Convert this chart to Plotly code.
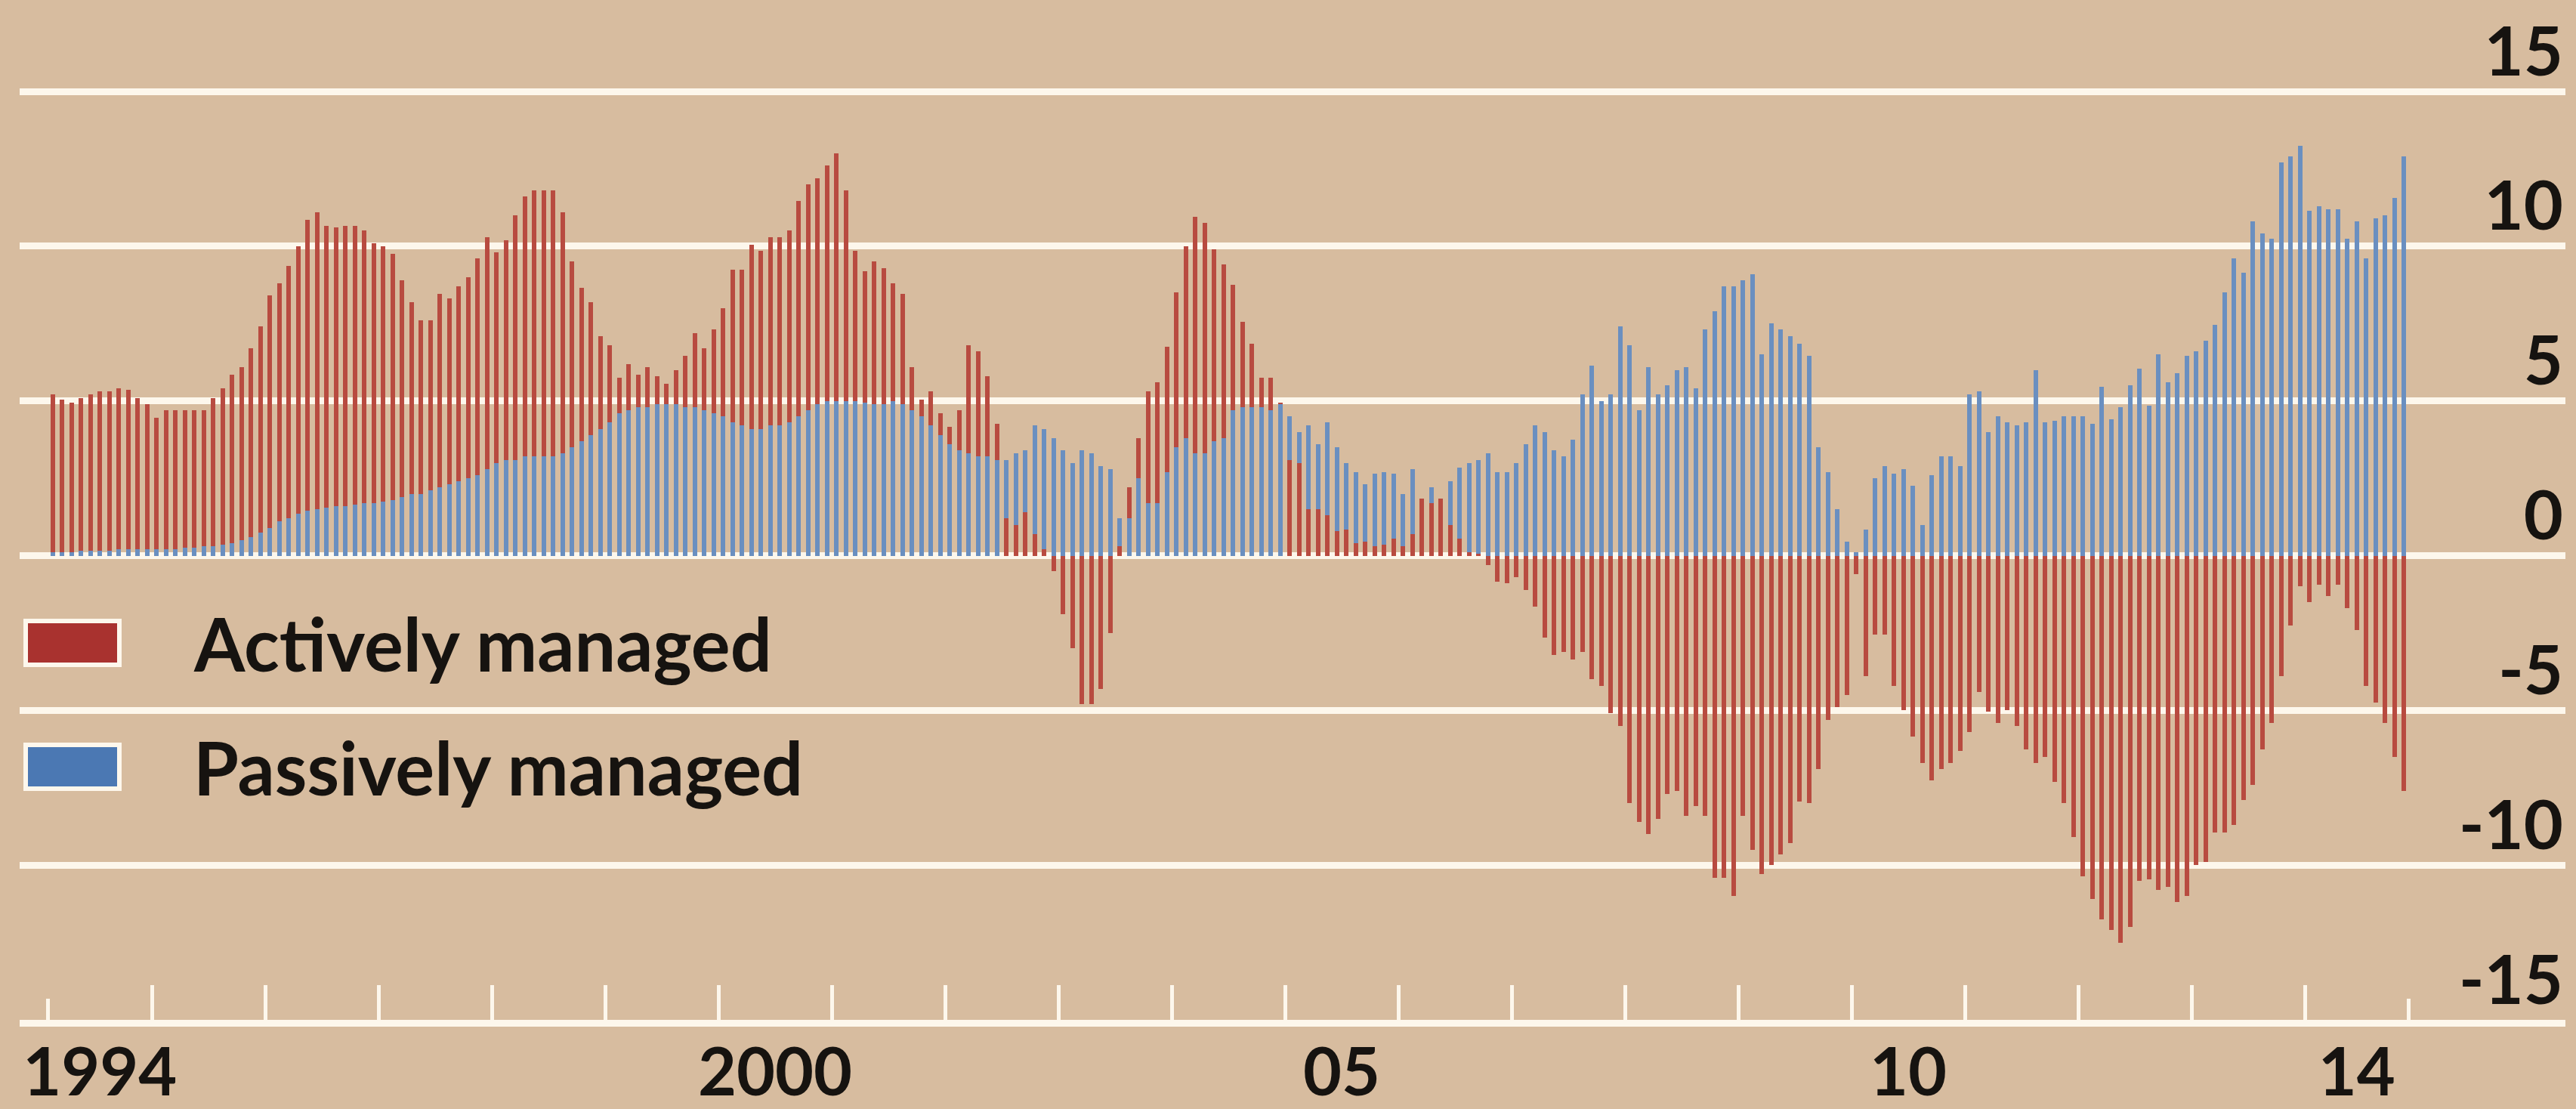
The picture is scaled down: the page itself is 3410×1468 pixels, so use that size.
import plotly.graph_objects as go

# ---------------- data (monthly, Feb 1994 .. Nov 2014) ----------------
start_year = 1994
start_month = 2          # February 1994
active = [
    # 1994 (Feb-Dec)
    5.2, 5.05, 4.95, 5.1, 5.2, 5.3, 5.3, 5.4, 5.35, 5.1, 4.9,
    # 1995
    4.45, 4.7, 4.7, 4.7, 4.7, 4.7, 5.1, 5.4, 5.85, 6.1, 6.7, 7.4,
    # 1996
    8.4, 8.8, 9.35, 10.0, 10.85, 11.1, 10.65, 10.6, 10.65, 10.65, 10.5, 10.1,
    # 1997
    10.0, 9.75, 8.9, 8.2, 7.6, 7.6, 8.45, 8.3, 8.7, 9.0, 9.6, 10.3,
    # 1998
    9.8, 10.2, 11.0, 11.6, 11.8, 11.8, 11.8, 11.1, 9.5, 8.65, 8.2, 7.1,
    # 1999
    6.8, 5.75, 6.2, 5.85, 6.1, 5.8, 5.55, 6.0, 6.45, 7.2, 6.7, 7.3,
    # 2000
    8.0, 9.25, 9.25, 10.05, 9.85, 10.3, 10.3, 10.5, 11.45, 12.0, 12.2, 12.6,
    # 2001
    13.0, 11.8, 9.85, 9.2, 9.5, 9.3, 8.8, 8.45, 6.1, 5.05, 5.3, 4.6,
    # 2002
    4.15, 4.7, 6.8, 6.6, 5.8, 4.25, 1.2, 1.0, 1.4, 0.7, 0.2, -0.5,
    # 2003
    -1.9, -3.0, -4.8, -4.8, -4.3, -2.5, 0.3, 2.2, 3.8, 5.3, 5.6, 6.75,
    # 2004
    8.5, 10.0, 10.95, 10.75, 9.9, 9.4, 8.75, 7.55, 6.85, 5.75, 5.75, 4.95,
    # 2005
    3.1, 3.0, 1.5, 1.5, 1.3, 0.8, 0.85, 0.4, 0.45, 0.3, 0.35, 0.55,
    # 2006
    0.3, 0.7, 1.85, 1.7, 1.85, 1.0, 0.55, 0.1, 0.05, -0.3, -0.85, -0.9,
    # 2007
    -0.7, -1.1, -1.65, -2.65, -3.2, -3.1, -3.35, -3.1, -4.0, -4.2, -5.1, -5.5,
    # 2008
    -8.0, -8.6, -9.0, -8.5, -7.7, -7.6, -8.4, -8.1, -8.4, -10.4, -10.4, -11.0,
    # 2009
    -8.4, -9.5, -10.3, -10.0, -9.65, -9.3, -7.95, -8.0, -6.9, -5.3, -4.9, -4.5,
    # 2010
    -0.6, -3.9, -2.55, -2.55, -4.2, -5.0, -5.85, -6.7, -7.25, -6.9, -6.7, -6.3,
    # 2011
    -5.7, -4.4, -5.05, -5.4, -5.0, -5.5, -6.25, -6.7, -6.5, -7.3, -8.0, -9.1,
    # 2012
    -10.35, -11.1, -11.75, -12.1, -12.5, -12.0, -10.5, -10.45, -10.8, -10.7, -11.2, -11.0,
    # 2013
    -10.0, -9.9, -8.95, -8.95, -8.7, -7.9, -7.4, -6.25, -5.4, -3.9, -2.25, -1.0,
    # 2014 (Jan-Nov)
    -1.5, -0.95, -1.3, -0.95, -1.7, -2.4, -4.2, -4.75, -5.4, -6.5, -7.6,
]
passive = [
    # 1994 (Feb-Dec)
    0.1, 0.1, 0.1, 0.15, 0.15, 0.15, 0.15, 0.2, 0.2, 0.2, 0.2,
    # 1995
    0.2, 0.2, 0.2, 0.25, 0.25, 0.3, 0.3, 0.35, 0.4, 0.5, 0.6, 0.75,
    # 1996
    0.9, 1.1, 1.2, 1.35, 1.45, 1.5, 1.55, 1.6, 1.6, 1.65, 1.7, 1.7,
    # 1997
    1.75, 1.8, 1.9, 2.0, 2.0, 2.1, 2.2, 2.3, 2.4, 2.5, 2.6, 2.8,
    # 1998
    3.0, 3.1, 3.1, 3.2, 3.2, 3.2, 3.2, 3.3, 3.5, 3.7, 3.9, 4.1,
    # 1999
    4.3, 4.6, 4.7, 4.8, 4.8, 4.9, 4.9, 4.9, 4.8, 4.8, 4.7, 4.6,
    # 2000
    4.5, 4.3, 4.2, 4.1, 4.1, 4.2, 4.2, 4.3, 4.5, 4.7, 4.9, 5.0,
    # 2001
    5.0, 5.0, 5.0, 4.95, 4.9, 4.9, 5.0, 4.9, 4.7, 4.5, 4.2, 3.9,
    # 2002
    3.6, 3.4, 3.3, 3.2, 3.2, 3.1, 3.1, 3.3, 3.4, 4.2, 4.1, 3.8,
    # 2003
    3.4, 3.0, 3.4, 3.3, 2.9, 2.8, 1.2, 1.2, 2.5, 1.7, 1.7, 2.7,
    # 2004
    3.5, 3.8, 3.3, 3.3, 3.7, 3.8, 4.7, 4.8, 4.8, 4.8, 4.7, 4.9,
    # 2005
    4.5, 4.0, 4.2, 3.6, 4.3, 3.5, 3.0, 2.7, 2.3, 2.65, 2.7, 2.65,
    # 2006
    2.0, 2.8, 1.85, 2.2, 1.85, 2.4, 2.85, 3.0, 3.1, 3.3, 2.7, 2.7,
    # 2007
    3.0, 3.6, 4.2, 4.0, 3.4, 3.2, 3.75, 5.2, 6.15, 5.0, 5.2, 7.4,
    # 2008
    6.8, 4.7, 6.1, 5.2, 5.5, 6.0, 6.1, 5.4, 7.3, 7.9, 8.7, 8.7,
    # 2009
    8.9, 9.1, 6.5, 7.5, 7.3, 7.1, 6.85, 6.45, 3.5, 2.7, 1.5, 0.45,
    # 2010
    0.1, 0.85, 2.5, 2.9, 2.65, 2.8, 2.25, 1.0, 2.6, 3.2, 3.2, 2.9,
    # 2011
    5.2, 5.3, 4.0, 4.5, 4.3, 4.2, 4.3, 6.0, 4.3, 4.35, 4.5, 4.5,
    # 2012
    4.5, 4.25, 5.45, 4.4, 4.8, 5.5, 6.05, 4.85, 6.5, 5.6, 5.9, 6.45,
    # 2013
    6.6, 6.95, 7.45, 8.5, 9.6, 9.15, 10.8, 10.4, 10.25, 12.7, 12.9, 13.25,
    # 2014 (Jan-Nov)
    11.15, 11.3, 11.2, 11.2, 10.25, 10.8, 9.6, 10.9, 11.0, 11.55, 12.9,
]
y_ticks = [-15, -10, -5, 0, 5, 10, 15]
y_labels = ["-15", "-10", "-5", "0", "5", "10", "15"]
x_label_text = ["1994", "2000", "05", "10", "14"]
series_names = ["Actively managed", "Passively managed"]

# ---------------- derived positions (month centres in fractional years) ----------------
n = len(active)
x = [start_year + (start_month - 1 + i + 0.5) / 12 for i in range(n)]
data_start = start_year + (start_month - 1) / 12
data_end = start_year + (start_month - 1 + n) / 12
year_ticks = list(range(start_year + 1, int(data_end) + 1))
x_label_pos = [(data_start + start_year + 1) / 2, 2000.5, 2005.5, 2010.5,
               (int(data_end) + data_end) / 2]

# ---------------- styling ----------------
BG = "#d7bc9f"
GRID = "#fdf7ec"
RED = "#b84b40"
BLUE = "#6a8fc0"
RED_SW = "#a9322f"
BLUE_SW = "#4b78b3"
FONT = "Lato"
TXT = "#161310"

W, H = 3410, 1468
ML, MR, MT, MB = 26, 14, 0, 118
PW, PH = W - ML - MR, H - MT - MB
XR = [1995 - (201 - ML) / 150, 1995 + (W - MR - 201) / 150]
YR = [-15, 15 + (121 - MT) / ((1350 - 121) / 30)]


def px_x(px):
    return (px - ML) / PW


def px_y(py):
    return (PH - (py - MT)) / PH


# shorter bar drawn in front
def front(a, p):
    return a * p > 0 and abs(a) <= abs(p)


red_back = [a if not front(a, p) else None for a, p in zip(active, passive)]
red_front = [a if front(a, p) else None for a, p in zip(active, passive)]

bw = 0.5 / 12
fig = go.Figure()
fig.add_trace(go.Bar(x=x, y=red_back, width=bw, marker=dict(color=RED, line=dict(width=0)),
                     name=series_names[0], showlegend=False))
fig.add_trace(go.Bar(x=x, y=passive, width=bw, marker=dict(color=BLUE, line=dict(width=0)),
                     name=series_names[1], showlegend=False))
fig.add_trace(go.Bar(x=x, y=red_front, width=bw, marker=dict(color=RED, line=dict(width=0)),
                     name=series_names[0], showlegend=False))
# invisible trace to carry the secondary (short) ticks axis
fig.add_trace(go.Scatter(x=[data_start, data_end], y=[None, None], xaxis="x2", yaxis="y",
                         mode="markers", showlegend=False, hoverinfo="skip"))

fig.update_layout(
    width=W, height=H,
    margin=dict(l=ML, r=MR, t=MT, b=MB, autoexpand=False),
    paper_bgcolor=BG, plot_bgcolor=BG,
    barmode="overlay", bargap=0,
    showlegend=False,
    font=dict(family=FONT, color=TXT),
    xaxis=dict(
        range=XR, showgrid=False, zeroline=False, automargin=False,
        showline=True, linecolor=GRID, linewidth=9,
        tickmode="array", tickvals=x_label_pos, ticktext=x_label_text,
        ticks="", ticklabelstandoff=-15,
        tickfont=dict(family=FONT, size=88, color=TXT, weight=700),
        minor=dict(tickmode="array", tickvals=year_ticks, ticks="inside",
                   ticklen=46, tickwidth=5, tickcolor=GRID, showgrid=False),
    ),
    xaxis2=dict(
        range=XR, overlaying="x", anchor="y", side="bottom", automargin=False,
        showgrid=False, zeroline=False, showline=False, showticklabels=False,
        tickmode="array", tickvals=[data_start, data_end],
        ticks="inside", ticklen=28, tickwidth=5, tickcolor=GRID,
    ),
    yaxis=dict(
        range=YR, side="right", showgrid=True, gridcolor=GRID, gridwidth=9,
        zeroline=False, showline=False, ticks="", automargin=False,
        tickmode="array", tickvals=y_ticks, ticktext=y_labels,
        ticklabelposition="inside top", ticklabelshift=10,
        tickfont=dict(family=FONT, size=90, color=TXT, weight=700),
    ),
)

# clear the -5 gridline behind the legend
fig.add_shape(type="rect", xref="paper", yref="y", x0=px_x(0), x1=px_x(1163),
              y0=-5.4, y1=-4.6, fillcolor=BG, line=dict(width=0), layer="between")

# legend (swatches + labels)
for (cy, col, label) in [(851, RED_SW, series_names[0]), (1015, BLUE_SW, series_names[1])]:
    fig.add_shape(type="rect", xref="paper", yref="paper",
                  x0=px_x(34), x1=px_x(158), y0=px_y(cy + 29), y1=px_y(cy - 29),
                  fillcolor=col, line=dict(color=GRID, width=6), layer="above")
    fig.add_annotation(xref="paper", yref="paper", x=px_x(254), y=px_y(cy),
                       xanchor="left", yanchor="middle", showarrow=False, text=label,
                       font=dict(family=FONT, size=97, color=TXT, weight=700))

fig.write_html(
    "out.html",
    config={"displayModeBar": False},
    post_script="document.body.style.margin='0';document.body.style.padding='0';"
                "document.body.style.overflow='hidden';",
)
